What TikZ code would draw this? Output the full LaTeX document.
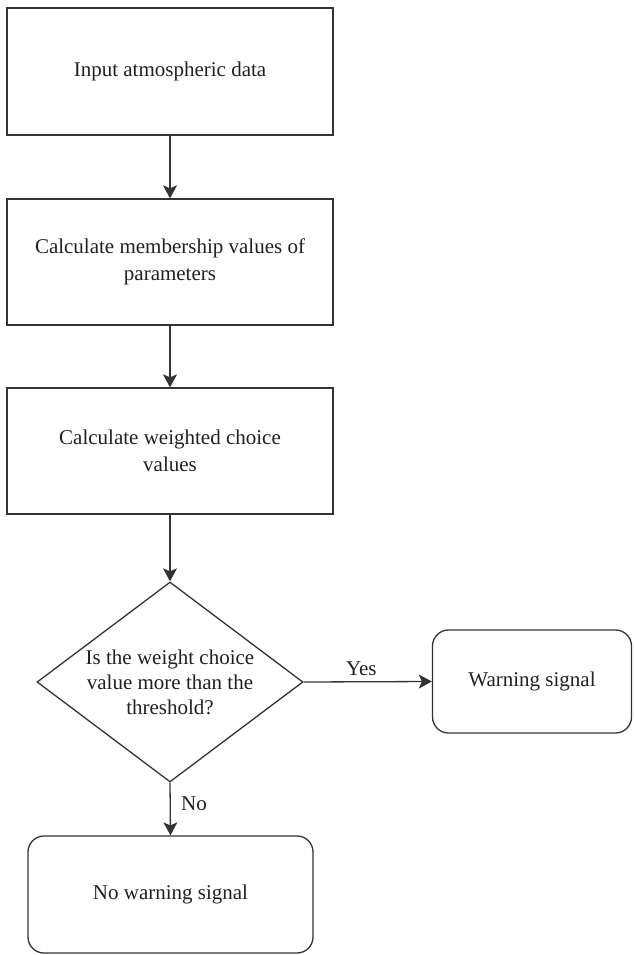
\documentclass[tikz,border=0pt]{standalone}
\usepackage{fontspec}
\setmainfont{Liberation Serif}
\usetikzlibrary{shapes.geometric,arrows.meta}
\definecolor{ink}{HTML}{231F20}
\definecolor{edge}{HTML}{333333}
\begin{document}
\begin{tikzpicture}[x=1pt,y=-1pt,
  every node/.style={text=ink,font=\fontsize{21}{27}\selectfont},
  procbox/.style={draw=edge,line width=1.3pt,rectangle,minimum width=326pt,inner sep=0pt,align=center},
  endbox/.style={draw=edge,line width=1.3pt,rectangle,rounded corners=16pt,inner sep=0pt,align=center},
  decbox/.style={draw=edge,line width=1.3pt,diamond,minimum width=266pt,minimum height=200pt,inner sep=0pt},
  flow/.style={draw=edge,line width=1.3pt,-{Stealth[length=13pt,width=14pt,inset=3pt]}},
  lbl/.style={font=\fontsize{21}{25}\selectfont}
]
\useasboundingbox (0,0) rectangle (633,955);
\node[procbox,minimum height=127pt] (b1) at (170,71.5) {Input atmospheric data};
\node[procbox,minimum height=126pt] (b2) at (170,262) {Calculate membership values of\\parameters};
\node[procbox,minimum height=126pt] (b3) at (170,451) {Calculate weighted choice\\values};
\node[decbox] (d) at (170,682) {};
\node[align=center,font=\fontsize{21}{25}\selectfont] (dt) at (d.center) {Is the weight choice\\value more than the\\threshold?};
\node[endbox,minimum width=199pt,minimum height=103pt] (w) at (532,681.5) {Warning signal};
\node[endbox,minimum width=285pt,minimum height=117pt] (nw) at (170.5,894.5) {No warning signal};
\draw[flow] (b1) -- (b2);
\draw[flow] (b2) -- (b3);
\draw[flow] (b3) -- (d.north);
\draw[flow] (d.east) -- node[lbl,above=2pt,pos=0.45] (yes) {Yes} (w.west);
\draw[flow] (d.south) -- node[lbl,right=7pt,pos=0.4] (no) {No} (nw.north);
\end{tikzpicture}
\end{document}
